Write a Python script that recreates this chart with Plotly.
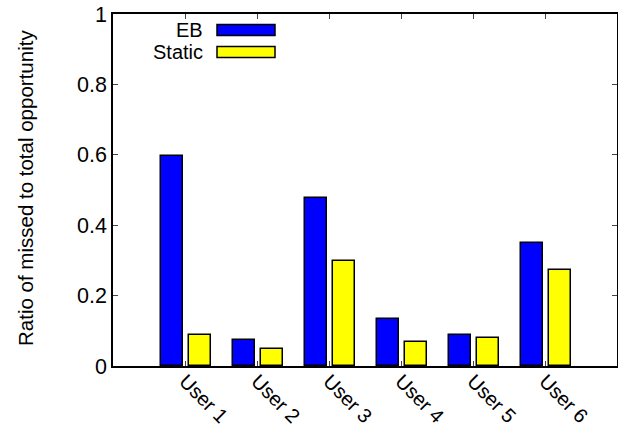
import plotly.graph_objects as go

# Per-user ratio of missed to total opportunity
users = ["User 1", "User 2", "User 3", "User 4", "User 5", "User 6"]
eb_values = [0.598, 0.074, 0.477, 0.134, 0.088, 0.350]
static_values = [0.088, 0.047, 0.298, 0.067, 0.080, 0.274]
y_ticks = [0, 0.2, 0.4, 0.6, 0.8, 1]
y_tick_labels = ["0", "0.2", "0.4", "0.6", "0.8", "1"]
y_title = "Ratio of missed to total opportunity"

positions = list(range(1, len(users) + 1))
FONT = "Liberation Sans, Arial, sans-serif"

fig = go.Figure()
fig.add_trace(go.Bar(
    x=positions, y=eb_values, name="EB",
    width=0.31, offset=-0.34,
    marker=dict(color="#0000FF", line=dict(color="#000000", width=1.5)),
    showlegend=False,
))
fig.add_trace(go.Bar(
    x=positions, y=static_values, name="Static",
    width=0.30, offset=0.06,
    marker=dict(color="#FFFF00", line=dict(color="#000000", width=1.5)),
    showlegend=False,
))

W, H = 618, 432
L, R, T, B = 113, 1, 14, 66
pw, ph = W - L - R, H - T - B

# Key drawn with the label to the left of its swatch
legend_items = [("EB", "#0000FF", 30), ("Static", "#FFFF00", 52)]
for label, color, yc in legend_items:
    fig.add_shape(type="rect", xref="paper", yref="paper",
                  x0=(217 - L) / pw, x1=(275 - L) / pw,
                  y0=1 - (yc + 5.5 - T) / ph, y1=1 - (yc - 5.5 - T) / ph,
                  fillcolor=color, line=dict(color="#000000", width=1.5))
    fig.add_annotation(xref="paper", yref="paper",
                       x=(205 - L) / pw, y=1 - (yc - T) / ph,
                       text=label, showarrow=False,
                       xanchor="right", yanchor="middle",
                       font=dict(family=FONT, size=20, color="#000000"))

# Vertical axis title
fig.add_annotation(xref="paper", yref="paper",
                   x=(25 - L) / pw, y=1 - (188 - T) / ph,
                   text=y_title, textangle=-90, showarrow=False,
                   xanchor="center", yanchor="middle",
                   font=dict(family=FONT, size=20.5, color="#000000"))

fig.update_layout(
    width=W, height=H,
    margin=dict(l=L, r=R, t=T, b=B, pad=0, autoexpand=False),
    plot_bgcolor="#FFFFFF", paper_bgcolor="#FFFFFF",
    font=dict(family=FONT, color="#000000"),
    bargap=0,
)
fig.update_xaxes(
    range=[0, 7], tickmode="array", tickvals=positions, ticktext=users,
    tickangle=45, ticks="inside", ticklen=5, tickcolor="#444444",
    showline=True, linecolor="#000000", linewidth=1.5, mirror="allticks",
    showgrid=False, zeroline=False, automargin=False,
    ticklabelstandoff=-6,
    tickfont=dict(family=FONT, size=20, color="#000000"),
)
fig.update_yaxes(
    range=[0, 1], tickmode="array", tickvals=y_ticks, ticktext=y_tick_labels,
    ticks="inside", ticklen=5, tickcolor="#444444",
    showline=True, linecolor="#000000", linewidth=1.5, mirror="allticks",
    showgrid=False, zeroline=False, automargin=False,
    tickfont=dict(family=FONT, size=21.5, color="#000000"),
)

fig.write_html("out.html")
